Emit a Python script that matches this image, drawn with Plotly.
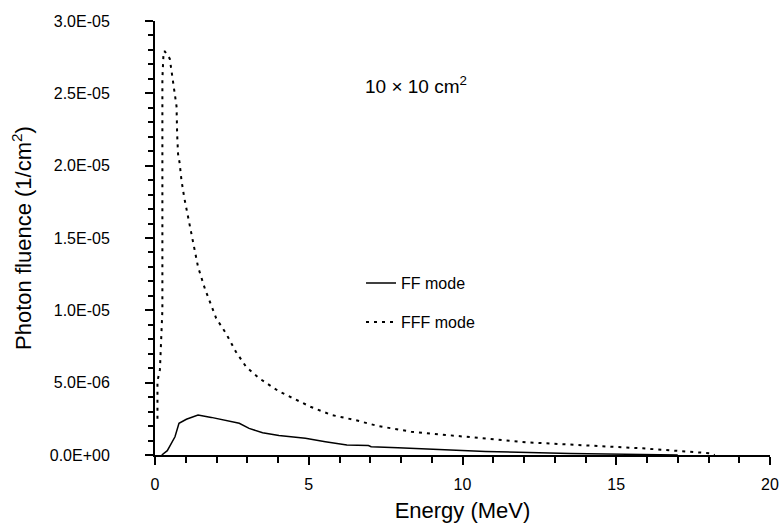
import plotly.graph_objects as go

# FF mode (flattening filter) spectrum
ff_energy = [0.22, 0.4, 0.65, 0.78, 1.02, 1.4, 1.83, 2.2, 2.74, 3.06, 3.5, 4.03,
             4.89, 5.54, 6.24, 6.94, 7.03, 7.9, 9.09, 10.75, 13.5, 17.0]
ff_fluence = [0.0, 0.3e-6, 1.26e-6, 2.19e-6, 2.47e-6, 2.76e-6, 2.6e-6, 2.42e-6,
              2.19e-6, 1.84e-6, 1.54e-6, 1.34e-6, 1.15e-6, 0.92e-6, 0.69e-6,
              0.65e-6, 0.57e-6, 0.5e-6, 0.39e-6, 0.25e-6, 0.11e-6, 0.0]

# FFF mode (flattening filter free) spectrum
fff_energy = [0.08, 0.08, 0.16, 0.24, 0.24, 0.28, 0.32, 0.4, 0.48, 0.54, 0.59,
              0.65, 0.7, 0.72, 0.75, 0.8, 0.86, 0.95, 1.02, 1.12, 1.24, 1.4,
              1.63, 1.99, 2.31, 2.63, 2.96, 3.39, 4.03, 5.05, 5.75, 6.5, 7.26,
              8.33, 9.95, 12.1, 13.17, 15.86, 18.12, 18.2]
fff_fluence = [0.25e-5, 0.51e-5, 0.59e-5, 1.0e-5, 2.6e-5, 2.79e-5, 2.79e-5,
               2.76e-5, 2.74e-5, 2.65e-5, 2.58e-5, 2.49e-5, 2.41e-5, 2.22e-5,
               2.08e-5, 2.02e-5, 1.9e-5, 1.78e-5, 1.70e-5, 1.58e-5, 1.47e-5,
               1.30e-5, 1.145e-5, 0.945e-5, 0.84e-5, 0.714e-5, 0.61e-5,
               0.53e-5, 0.44e-5, 0.334e-5, 0.276e-5, 0.242e-5, 0.2e-5,
               0.161e-5, 0.127e-5, 0.087e-5, 0.076e-5, 0.046e-5, 0.011e-5, 0.0]

y_tickvals = [0, 5e-6, 1e-5, 1.5e-5, 2e-5, 2.5e-5, 3e-5]
y_ticktext = ["0.0E+00", "5.0E-06", "1.0E-05", "1.5E-05", "2.0E-05", "2.5E-05", "3.0E-05"]
x_tickvals = [0, 5, 10, 15, 20]

FONT = "Liberation Sans, Arial, sans-serif"

fig = go.Figure()
fig.add_trace(go.Scatter(x=ff_energy, y=ff_fluence, mode="lines", name="FF mode",
                         line=dict(color="black", width=1.5), legend="legend"))
fig.add_trace(go.Scatter(x=fff_energy, y=fff_fluence, mode="lines", name="FFF mode",
                         line=dict(color="black", width=2, dash="3px,5px"), legend="legend2"))

legend_common = dict(font=dict(family=FONT, size=16, color="black"),
                     bgcolor="rgba(0,0,0,0)", xanchor="left", yanchor="middle",
                     borderwidth=0)
fig.update_layout(
    width=781, height=530,
    margin=dict(l=155, r=11, t=21, b=75, autoexpand=False),
    paper_bgcolor="white", plot_bgcolor="white",
    font=dict(family=FONT, color="black"),
    showlegend=True,
    legend=dict(x=0.335, y=0.396, **legend_common),
    legend2=dict(x=0.335, y=0.306, **legend_common),
    annotations=[dict(text="10 × 10 cm<sup>2</sup>", x=0.425, y=0.885, xref="paper", yref="paper",
                      showarrow=False, font=dict(family=FONT, size=19, color="black"))],
)
fig.update_xaxes(
    range=[0, 20], showgrid=False, zeroline=False,
    showline=True, linecolor="black", linewidth=2,
    ticks="outside", ticklen=8, tickwidth=1.5, tickcolor="black",
    tickvals=x_tickvals, ticklabelstandoff=6, ticklabeloverflow="allow",
    automargin=False,
    tickfont=dict(family=FONT, size=16, color="black"),
    minor=dict(dtick=1, ticks="outside", ticklen=6, tickwidth=1.5, tickcolor="black"),
    title=dict(text="Energy (MeV)", font=dict(family=FONT, size=22, color="black"), standoff=10),
)
fig.update_yaxes(
    range=[0, 3e-5], showgrid=False, zeroline=False,
    showline=True, linecolor="black", linewidth=2,
    ticks="outside", ticklen=8, tickwidth=1.5, tickcolor="black",
    tickvals=y_tickvals, ticktext=y_ticktext, ticklabelstandoff=32,
    automargin=False,
    tickfont=dict(family=FONT, size=16, color="black"),
    minor=dict(dtick=1e-6, ticks="outside", ticklen=5, tickwidth=1.5, tickcolor="black"),
    title=dict(text="Photon fluence (1/cm<sup>2</sup>)", font=dict(family=FONT, size=22, color="black"),
               standoff=12),
)

fig.write_html("out.html", config={"displayModeBar": False},
               post_script="document.body.style.margin='0px';")
